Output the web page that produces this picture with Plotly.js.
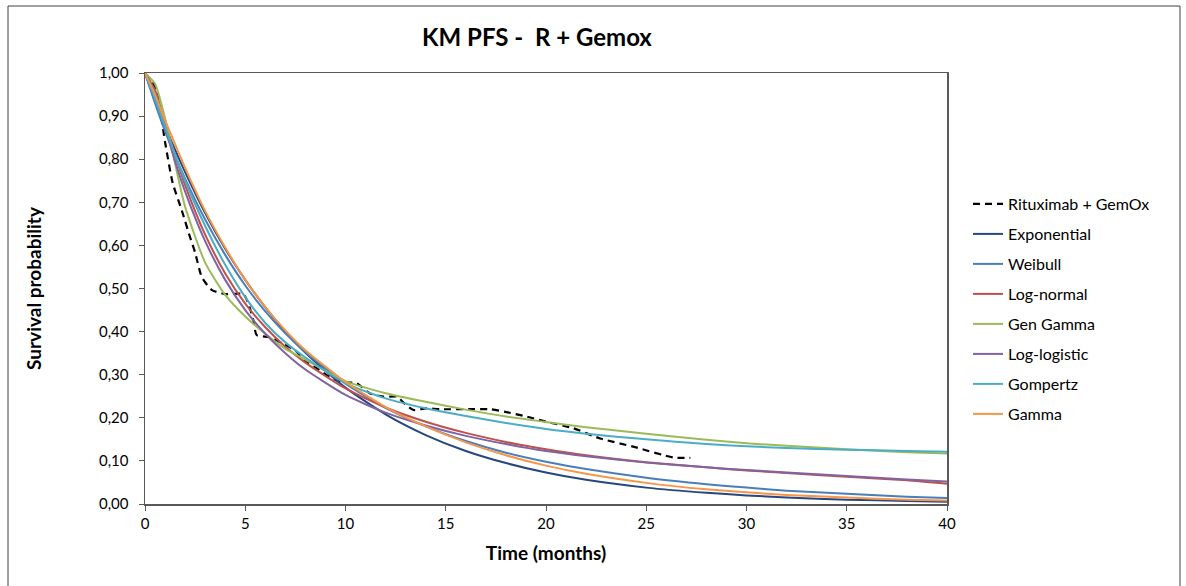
<!DOCTYPE html>
<html>
<head>
<meta charset="utf-8">
<script src="https://cdn.plot.ly/plotly-3.0.1.min.js"></script>
<style>html,body{margin:0;padding:0;background:#fff;}#chart{width:1186px;height:586px;}</style>
</head>
<body>
<div id="chart"></div>
<script>
// Kaplan-Meier observed curve (Rituximab + GemOx)
const kmTime = [0, 0.55, 1.0, 1.38, 1.83, 2.24, 2.49, 2.83, 3.32, 3.99, 4.9, 5.15, 5.4, 5.57, 6.23, 6.85, 7.48, 7.98, 8.56, 9.06, 9.73, 10.56, 11.2, 11.9, 12.6, 12.85, 13.4, 14.0, 14.7, 16.4, 17.2, 18.04, 18.85, 20.0, 21.35, 22.7, 24.35, 26.35, 27.2];
const kmSurv = [1.0, 0.963, 0.84, 0.745, 0.682, 0.62, 0.585, 0.527, 0.497, 0.487, 0.487, 0.466, 0.427, 0.392, 0.387, 0.373, 0.357, 0.332, 0.315, 0.299, 0.284, 0.28, 0.257, 0.249, 0.249, 0.237, 0.218, 0.222, 0.22, 0.22, 0.22, 0.213, 0.205, 0.191, 0.176, 0.152, 0.133, 0.108, 0.107];

// Time grid for the fitted parametric curves (months)
const fitTime = [0, 0.5, 1, 1.5, 2, 3, 4, 5, 6, 7, 8, 10, 12, 14, 16, 18, 20, 22, 25, 28, 30, 32, 35, 38, 40];

const exponential = [1, 0.937, 0.877, 0.822, 0.770, 0.675, 0.592, 0.520, 0.456, 0.400, 0.351, 0.270, 0.208, 0.160, 0.123, 0.095, 0.073, 0.056, 0.038, 0.026, 0.020, 0.015, 0.010, 0.007, 0.005];
const weibull     = [1, 0.930, 0.865, 0.808, 0.755, 0.660, 0.578, 0.507, 0.447, 0.396, 0.352, 0.279, 0.223, 0.180, 0.146, 0.119, 0.098, 0.081, 0.061, 0.046, 0.038, 0.031, 0.024, 0.017, 0.014];
const lognormal   = [1, 0.960, 0.885, 0.810, 0.740, 0.625, 0.535, 0.465, 0.410, 0.365, 0.328, 0.268, 0.224, 0.191, 0.165, 0.144, 0.127, 0.113, 0.097, 0.085, 0.078, 0.072, 0.063, 0.055, 0.047];
const genGamma    = [1, 0.975, 0.895, 0.790, 0.690, 0.560, 0.485, 0.435, 0.395, 0.360, 0.335, 0.285, 0.257, 0.237, 0.219, 0.203, 0.190, 0.178, 0.163, 0.149, 0.141, 0.135, 0.127, 0.120, 0.117];
const loglogistic = [1, 0.955, 0.875, 0.795, 0.725, 0.610, 0.520, 0.450, 0.395, 0.350, 0.312, 0.253, 0.212, 0.182, 0.158, 0.139, 0.123, 0.111, 0.096, 0.085, 0.079, 0.073, 0.065, 0.057, 0.052];
const gompertz    = [1, 0.940, 0.875, 0.810, 0.750, 0.645, 0.555, 0.480, 0.420, 0.375, 0.340, 0.280, 0.245, 0.222, 0.204, 0.188, 0.174, 0.163, 0.150, 0.139, 0.134, 0.130, 0.126, 0.123, 0.121];
const gamma       = [1, 0.950, 0.890, 0.835, 0.780, 0.680, 0.595, 0.520, 0.457, 0.403, 0.357, 0.283, 0.225, 0.180, 0.143, 0.113, 0.089, 0.070, 0.049, 0.034, 0.027, 0.021, 0.015, 0.010, 0.008];

const seriesNames = ["Exponential", "Weibull", "Log-normal", "Gen Gamma", "Log-logistic", "Gompertz", "Gamma"];
const seriesData = [exponential, weibull, lognormal, genGamma, loglogistic, gompertz, gamma];
const seriesColors = ["#26477f", "#4a7ebb", "#c0504d", "#9bbb59", "#8064a2", "#4bacc6", "#f79646"];

const xTicks = [0, 5, 10, 15, 20, 25, 30, 35, 40];
const yTicks = [0, 0.1, 0.2, 0.3, 0.4, 0.5, 0.6, 0.7, 0.8, 0.9, 1.0];

const FONT = "Lato, 'Open Sans', sans-serif";

const traces = [{
  x: kmTime, y: kmSurv, type: "scatter", mode: "lines",
  name: "Rituximab + GemOx", legendgroup: "km",
  line: {color: "#000000", width: 2.2, dash: "7px,5px", shape: "spline", smoothing: 0.6}
}];
seriesNames.forEach((n, i) => {
  traces.push({
    x: fitTime, y: seriesData[i], type: "scatter", mode: "lines",
    name: n, legendgroup: "g" + i,
    line: {color: seriesColors[i], width: 2, shape: "spline", smoothing: 0.6}
  });
});

const L = 145, R = 947, T = 73, B = 504;
const pw = R - L, ph = B - T;
const px = v => (v - L) / pw;
const py = v => (B - v) / ph;

const layout = {
  width: 1186, height: 586,
  margin: {l: L, r: 1186 - R, t: T, b: 586 - B, pad: 0},
  paper_bgcolor: "#ffffff", plot_bgcolor: "#ffffff",
  separators: ", ",
  font: {family: FONT, color: "#000000", size: 14},
  title: {text: "<b>KM PFS -  R + Gemox</b>", x: px(537), xref: "paper", xanchor: "center", y: 1 - 38 / 586, yanchor: "middle", font: {size: 24, family: FONT, color: "#000"}},
  xaxis: {
    range: [0, 40], tickvals: xTicks, ticktext: xTicks.map(String),
    ticks: "outside", ticklen: 5, tickcolor: "#595959", tickwidth: 1,
    showline: true, linecolor: "#595959", linewidth: 1.5, mirror: true,
    showgrid: false, zeroline: false,
    tickfont: {size: 15, family: FONT},
    title: {text: "<b>Time (months)</b>", font: {size: 19, family: FONT}, standoff: 16}
  },
  yaxis: {
    range: [0, 1], tickvals: yTicks, tickformat: ".2f",
    ticks: "outside", ticklen: 5, tickcolor: "#595959", tickwidth: 1,
    showline: true, linecolor: "#595959", linewidth: 1.5, mirror: true,
    showgrid: false, zeroline: false, ticklabelstandoff: 7,
    tickfont: {size: 15, family: FONT},
    title: {text: "<b>Survival probability</b>", font: {size: 19, family: FONT}, standoff: 52}
  },
  showlegend: true,
  legend: {
    x: px(968), xanchor: "left", y: py(187), yanchor: "top",
    traceorder: "grouped", tracegroupgap: 6.2,
    font: {size: 16, family: FONT, color: "#000"},
    bgcolor: "rgba(0,0,0,0)", borderwidth: 0
  },
  shapes: [{
    type: "rect", xref: "paper", yref: "paper",
    x0: px(8), x1: px(1180), y0: py(600), y1: py(6),
    line: {color: "#404040", width: 1}, fillcolor: "rgba(0,0,0,0)", layer: "below"
  }]
};

Plotly.newPlot("chart", traces, layout, {displayModeBar: false, staticPlot: true});
</script>
</body>
</html>
